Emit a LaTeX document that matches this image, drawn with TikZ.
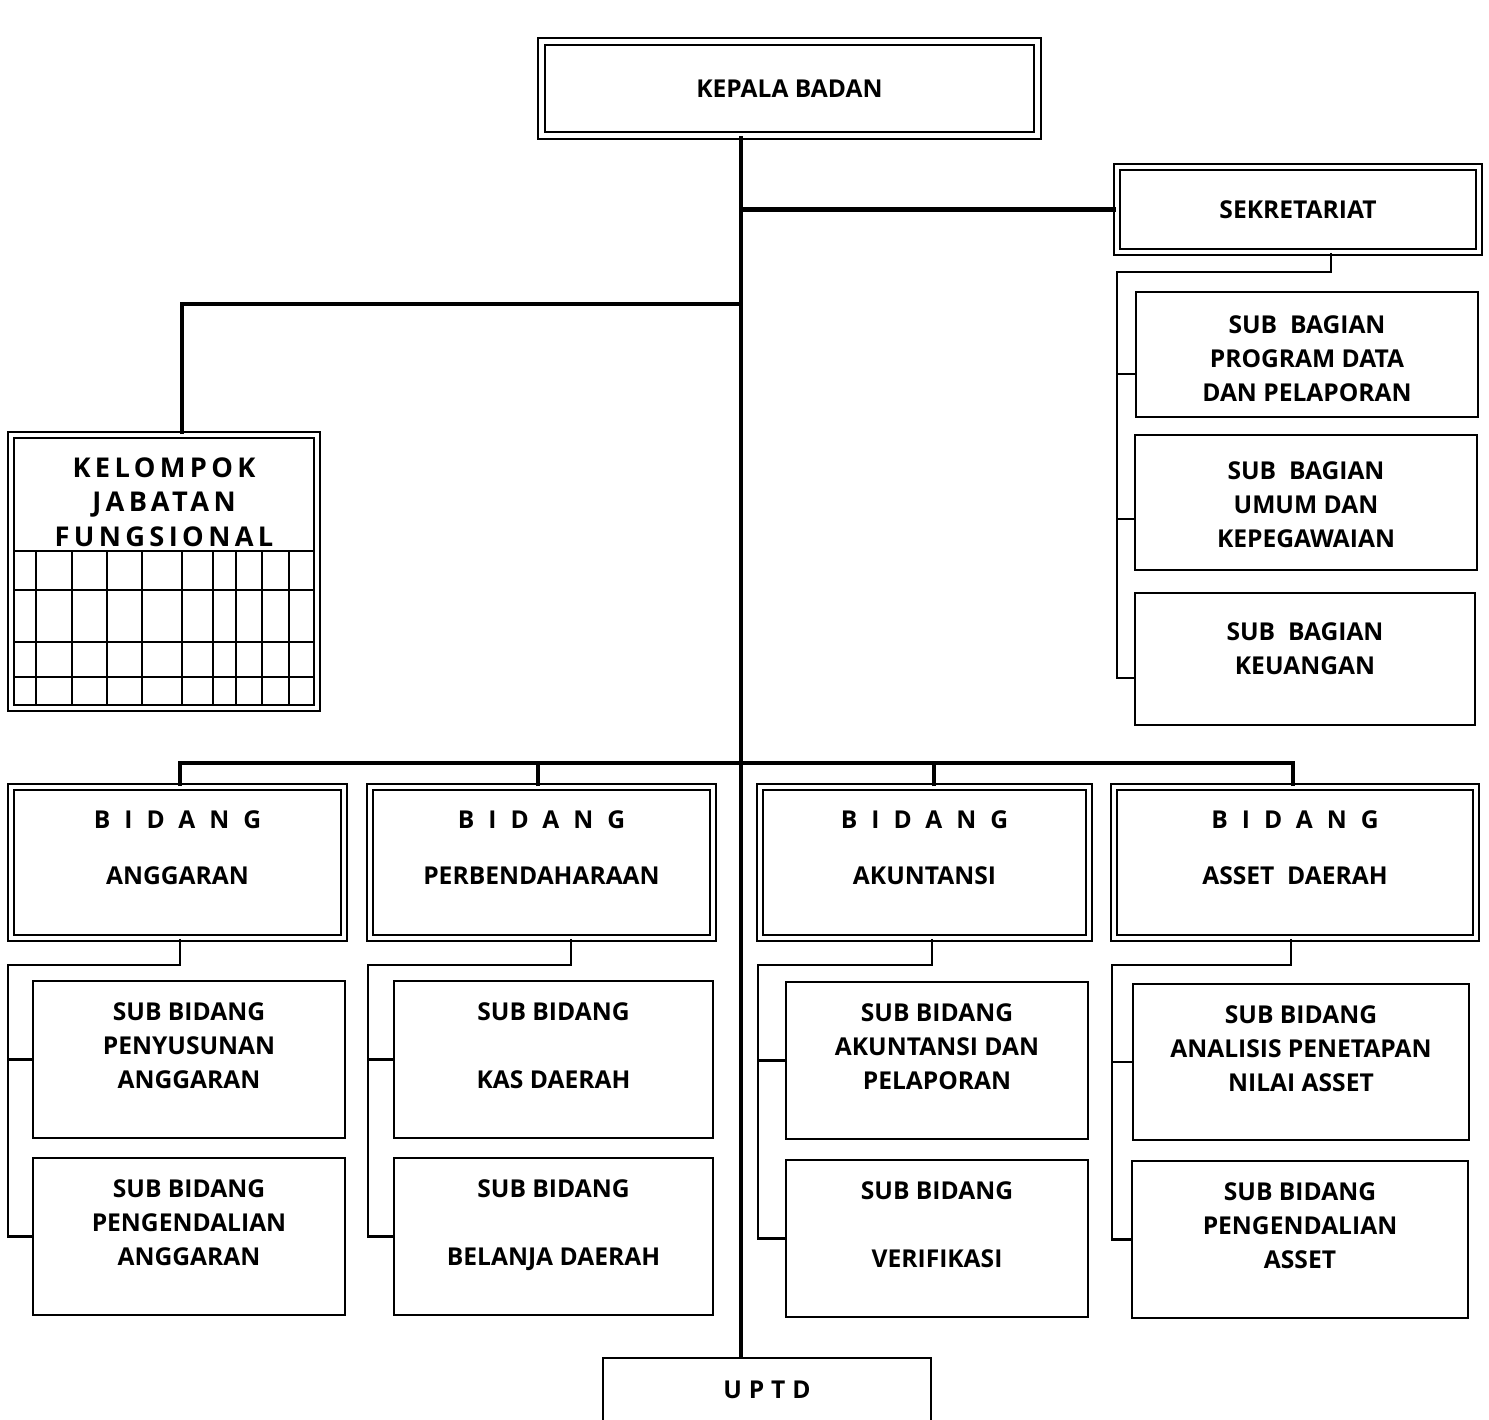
\documentclass[tikz,border=0pt]{standalone}
\usepackage{fontspec}
\setmainfont{Open Sans}
\newfontfamily\spreadfont{Open Sans}[LetterSpace=16]
\newfontfamily\uptdfont{Open Sans}[LetterSpace=28]
\newfontfamily\widefont{Open Sans}[LetterSpace=57]
\newcommand\chartsize{\fontsize{14}{19.3}\selectfont\bfseries}
\newcommand\bigsize{\fontsize{15.5}{19.8}\selectfont\bfseries}
\tikzset{
  box/.style={draw,line width=1.3pt,align=center,minimum width=#1*0.02cm},
  dbox/.style={draw,double,double distance=2.4pt,line width=1.1pt,align=center,minimum width=#1*0.02cm},
  tall/.style={minimum height=#1*0.02cm},
  intext/.style={anchor=north,align=center,yshift=#1},
  link/.style={line width=2.5pt},
  sublink/.style={line width=1.4pt},
  cellline/.style={line width=1.3pt}
}
\begin{document}
\begin{tikzpicture}[x=0.02cm,y=-0.02cm,font=\chartsize]
\fill[white] (0,0) rectangle (1489,1420);
\useasboundingbox (0,0) rectangle (1489,1420);
\coordinate (spine) at (741,0);

% head and secretariat
\node[dbox=496,tall=94] (kepala) at (789.5,88.5) {KEPALA BADAN};
\node[dbox=362,tall=85] (sekre) at (1298,209.5) {SEKRETARIAT};
\node[box=342,tall=125,label={[intext=-10.8pt]north:SUB\ \ BAGIAN\\PROGRAM DATA\\DAN PELAPORAN}] (sbProg) at (1307,354.5) {};
\node[box=342,tall=135,label={[intext=-12.5pt]north:SUB\ \ BAGIAN\\UMUM DAN\\KEPEGAWAIAN}] (sbUmum) at (1306,502.5) {};
\node[box=340,tall=132,label={[intext=-14pt]north:SUB\ \ BAGIAN\\KEUANGAN}] (sbKeu) at (1305,659) {};

% functional group with its table
\node[dbox=306,tall=273,label={[intext=-9.8pt,font=\spreadfont\bigsize]north:KELOMPOK\\JABATAN\\FUNGSIONAL}] (kjf) at (164,571.5) {};
\foreach \y in {551,590,642,677} \draw[cellline] (14,\y) -- (314,\y);
\foreach \x in {36,72,107,142,182,213,236,262,289} \draw[cellline] (\x,551) -- (\x,704);

% bidang
\node[dbox=333,tall=151,label={[intext=-10.7pt]north:{\widefont BIDANG}\\[12.4pt]ANGGARAN}] (bA) at (177.5,862.5) {};
\node[dbox=343,tall=151,label={[intext=-10.7pt]north:{\widefont BIDANG}\\[12.4pt]PERBENDAHARAAN}] (bB) at (541.5,862.5) {};
\node[dbox=329,tall=151,label={[intext=-10.7pt]north:{\widefont BIDANG}\\[12.4pt]AKUNTANSI}] (bC) at (924.5,862.5) {};
\node[dbox=362,tall=151,label={[intext=-10.7pt]north:{\widefont BIDANG}\\[12.4pt]ASSET\ \ DAERAH}] (bD) at (1295,862.5) {};

% sub bidang
\node[box=312,tall=157,label={[intext=-9.6pt]north:SUB BIDANG\\PENYUSUNAN\\ANGGARAN}] (sA1) at (189,1059.5) {};
\node[box=312,tall=157,label={[intext=-9.6pt]north:SUB BIDANG\\PENGENDALIAN\\ANGGARAN}] (sA2) at (189,1236.5) {};
\node[box=319,tall=157,label={[intext=-9.6pt]north:SUB BIDANG\\[19.3pt]KAS DAERAH}] (sB1) at (553.5,1059.5) {};
\node[box=319,tall=157,label={[intext=-9.6pt]north:SUB BIDANG\\[19.3pt]BELANJA DAERAH}] (sB2) at (553.5,1236.5) {};
\node[box=302,tall=157,label={[intext=-9.6pt]north:SUB BIDANG\\AKUNTANSI DAN\\PELAPORAN}] (sC1) at (937,1060.5) {};
\node[box=302,tall=157,label={[intext=-9.6pt]north:SUB BIDANG\\[19.3pt]VERIFIKASI}] (sC2) at (937,1238.5) {};
\node[box=336,tall=156,label={[intext=-9.6pt]north:SUB BIDANG\\ANALISIS PENETAPAN\\NILAI ASSET}] (sD1) at (1301,1062) {};
\node[box=336,tall=157,label={[intext=-9.6pt]north:SUB BIDANG\\PENGENDALIAN\\ASSET}] (sD2) at (1300,1239.5) {};

\node[box=328,tall=84,label={[intext=-10.2pt,font=\uptdfont\chartsize]north:UPTD}] (uptd) at (767,1400) {};

% main lines
\draw[link] (kepala.south -| spine) -- (uptd.north -| spine);
\draw[link] (spine |- sekre.west) -- (sekre.west);
\draw[link] (spine |- 0,304) -| (kjf.north -| 182,0);
\draw[link] (bA.north -| 180,0) |- (1293,763) -- (bD.north -| 1293,0);
\draw[link] (bB.north -| 538,0) -- (538,763);
\draw[link] (bC.north -| 934,0) -- (934,763);

% secretariat branches
\draw[sublink] (sekre.south -| 1331,0) |- (1117,272) |- (sbKeu.west |- 1117,678);
\draw[sublink] (1117,374) -- (sbProg.west |- 1117,374);
\draw[sublink] (1117,519) -- (sbUmum.west |- 1117,519);

% bidang branches
\foreach \c/\dx/\rx in {A/180/8,B/571/368,C/932/758,D/1291/1112}{
  \draw[sublink] (b\c.south -| \dx,0) -- ++(0,26) -| (\rx,0 |- s\c2.west) -- (s\c2.west);
  \draw[sublink] (\rx,0 |- s\c1.west) -- (s\c1.west);
}
\end{tikzpicture}
\end{document}
